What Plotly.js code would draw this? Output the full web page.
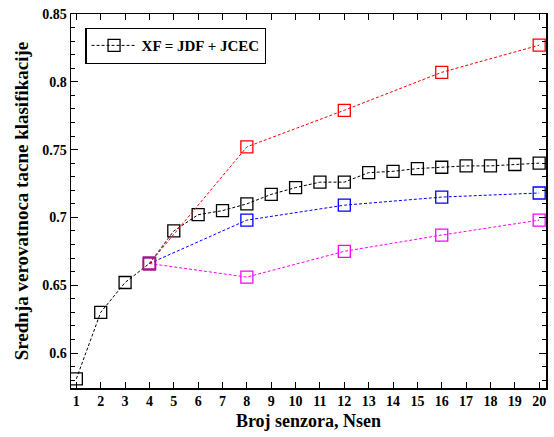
<!DOCTYPE html>
<html>
<head>
<meta charset="utf-8">
<script src="https://cdn.plot.ly/plotly-3.0.1.min.js"></script>
<style>html,body{margin:0;padding:0;background:#fff;}#chart{width:554px;height:437px;}</style>
</head>
<body>
<div id="chart"></div>
<script>
// Data
const xAll = [1,2,3,4,5,6,7,8,9,10,11,12,13,14,15,16,17,18,19,20];
const yXF = [0.581,0.630,0.652,0.666,0.690,0.702,0.705,0.710,0.717,0.722,0.726,0.726,0.733,0.734,0.736,0.737,0.738,0.738,0.739,0.740];
const xSub = [4,8,12,16,20];
const yRed = [0.666,0.752,0.779,0.807,0.827];
const yBlue = [0.666,0.698,0.709,0.715,0.718];
const yMagenta = [0.666,0.656,0.675,0.687,0.698];
const xTicks = xAll;
const yTicks = [0.6,0.65,0.7,0.75,0.8,0.85];
const yTickText = ['0.6','0.65','0.7','0.75','0.8','0.85'];

const font = 'Liberation Serif, Times New Roman, serif';
function mk(x, y, color, name, show) {
  return {
    x: x, y: y, type: 'scatter', mode: 'lines+markers', name: name, showlegend: show,
    line: {color: color, width: 1, dash: '3px,2px'},
    marker: {symbol: 'square-open', size: 12, color: color, line: {width: 1.3, color: color}}
  };
}
const traces = [
  mk(xAll, yXF, '#000000', 'XF = JDF + JCEC', true),
  mk(xSub, yMagenta, '#ff00ff', 'm', false),
  mk(xSub, yBlue, '#0000ff', 'b', false),
  mk(xSub, yRed, '#ff0000', 'r', false)
];
const layout = {
  width: 554, height: 437,
  margin: {l: 71, r: 8, t: 14, b: 49},
  paper_bgcolor: '#fff', plot_bgcolor: '#fff',
  font: {family: font, color: '#000', size: 14},
  showlegend: true,
  legend: {x: 0.03, y: 0.963, xanchor: 'left', yanchor: 'top', bordercolor: '#000', borderwidth: 1.3,
    bgcolor: '#fff', itemwidth: 45, font: {family: font, size: 15, weight: 'bold', color: '#000'}},
  xaxis: {
    range: [0.78, 20.28], tickmode: 'array', tickvals: xTicks, ticktext: xTicks.map(String),
    ticks: 'inside', ticklen: 6, tickwidth: 1, tickcolor: '#000', mirror: 'ticks',
    showline: true, linecolor: '#000', linewidth: 1.5, showgrid: false, zeroline: false,
    tickfont: {family: font, size: 14, weight: 'bold'},
    title: {text: 'Broj senzora, Nsen', font: {family: font, size: 18, weight: 'bold'}, standoff: 6}
  },
  yaxis: {
    range: [0.5742, 0.85], tickmode: 'array', tickvals: yTicks, ticktext: yTickText,
    ticks: 'inside', ticklen: 7, tickwidth: 1, tickcolor: '#000', mirror: 'ticks',
    minor: {dtick: 0.01, tick0: 0.6, ticks: 'inside', ticklen: 4, tickcolor: '#000', tickwidth: 1},
    showline: true, linecolor: '#000', linewidth: 1.5, showgrid: false, zeroline: false,
    tickfont: {family: font, size: 14, weight: 'bold'},
    title: {text: 'Srednja verovatnoca tacne klasifikacije', font: {family: font, size: 19, weight: 'bold'}, standoff: 8}
  }
};
Plotly.newPlot('chart', traces, layout, {displayModeBar: false, staticPlot: true});
</script>
</body>
</html>
